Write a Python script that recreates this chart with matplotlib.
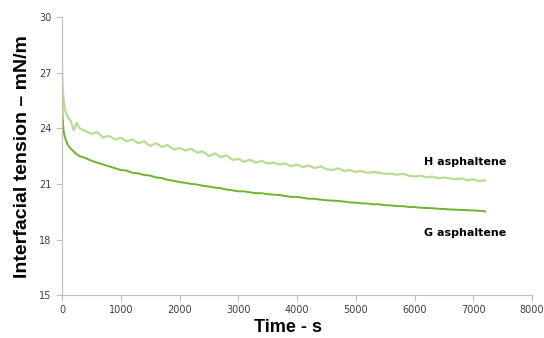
import matplotlib
matplotlib.use('Agg')
from matplotlib import pyplot as plt

# time axis (s)
time_s = [0, 10, 25, 50, 75, 100, 150, 200, 250] + list(range(300, 7201, 100))

h_asphaltene = [27.3, 26.2, 25.6, 25.0, 24.8, 24.6, 24.4, 23.9, 24.3,
                24.0, 23.85, 23.7, 23.8, 23.5, 23.6, 23.4, 23.5, 23.3, 23.4,
                23.2, 23.3, 23.05, 23.2, 23.0, 23.1, 22.85, 22.95, 22.8, 22.9,
                22.7, 22.75, 22.5, 22.65, 22.45, 22.55, 22.3, 22.35, 22.2, 22.3,
                22.15, 22.25, 22.1, 22.15, 22.05, 22.1, 21.95, 22.05, 21.9, 22.0,
                21.85, 21.95, 21.8, 21.75, 21.85, 21.7, 21.75, 21.65, 21.7, 21.6,
                21.65, 21.6, 21.55, 21.55, 21.5, 21.55, 21.45, 21.4, 21.45, 21.35,
                21.4, 21.3, 21.35, 21.3, 21.25, 21.3, 21.2, 21.25, 21.15, 21.2]

g_asphaltene = [25.7, 24.6, 23.9, 23.5, 23.3, 23.1, 22.9, 22.75, 22.6,
                22.5, 22.4, 22.25, 22.15, 22.05, 21.95, 21.85, 21.75, 21.72, 21.6,
                21.57, 21.48, 21.45, 21.35, 21.32, 21.22, 21.17, 21.1, 21.06, 21.0,
                20.97, 20.9, 20.86, 20.8, 20.77, 20.7, 20.66, 20.6, 20.6, 20.55,
                20.5, 20.5, 20.45, 20.42, 20.4, 20.35, 20.3, 20.3, 20.25, 20.2,
                20.2, 20.15, 20.12, 20.1, 20.08, 20.05, 20.0, 19.99, 19.95, 19.94,
                19.9, 19.9, 19.85, 19.84, 19.8, 19.8, 19.76, 19.75, 19.72, 19.7,
                19.69, 19.66, 19.65, 19.62, 19.61, 19.6, 19.58, 19.57, 19.55, 19.52]

x_ticks = list(range(0, 8001, 1000))
y_ticks = list(range(15, 31, 3))


def main():
    fig = plt.figure(figsize=(5.44, 3.38), dpi=100)
    ax = fig.add_axes([0.114, 0.127, 0.864, 0.822])

    ax.plot(time_s, h_asphaltene, color='#b8dd92', lw=1.6)
    ax.plot(time_s, g_asphaltene, color='#6cb52c', lw=1.4)

    ax.set_xlim(0, 8000)
    ax.set_ylim(15, 30)
    ax.set_xticks(x_ticks)
    ax.set_yticks(y_ticks)

    for side in ['top', 'right']:
        ax.spines[side].set_visible(False)
    for side in ['left', 'bottom']:
        ax.spines[side].set_color('#bfbfbf')
    ax.tick_params(colors='#bfbfbf', labelcolor='#404040', labelsize=7,
                   direction='out', length=4)

    ax.set_xlabel('Time - s', fontsize=13, fontweight='bold',
                  family='Liberation Sans', labelpad=3)
    ax.xaxis.set_label_coords(0.48, -0.085)
    ax.set_ylabel('Interfacial tension \u2013 mN/m', fontsize=14,
                  fontweight='bold', family='Liberation Sans', labelpad=6)

    ax.text(6160, 22.2, 'H asphaltene', fontsize=8, fontweight='bold',
            va='center', ha='left')
    ax.text(6160, 18.36, 'G asphaltene', fontsize=8, fontweight='bold',
            va='center', ha='left')

    fig.savefig('out.png', dpi=100)


if __name__ == '__main__':
    main()
